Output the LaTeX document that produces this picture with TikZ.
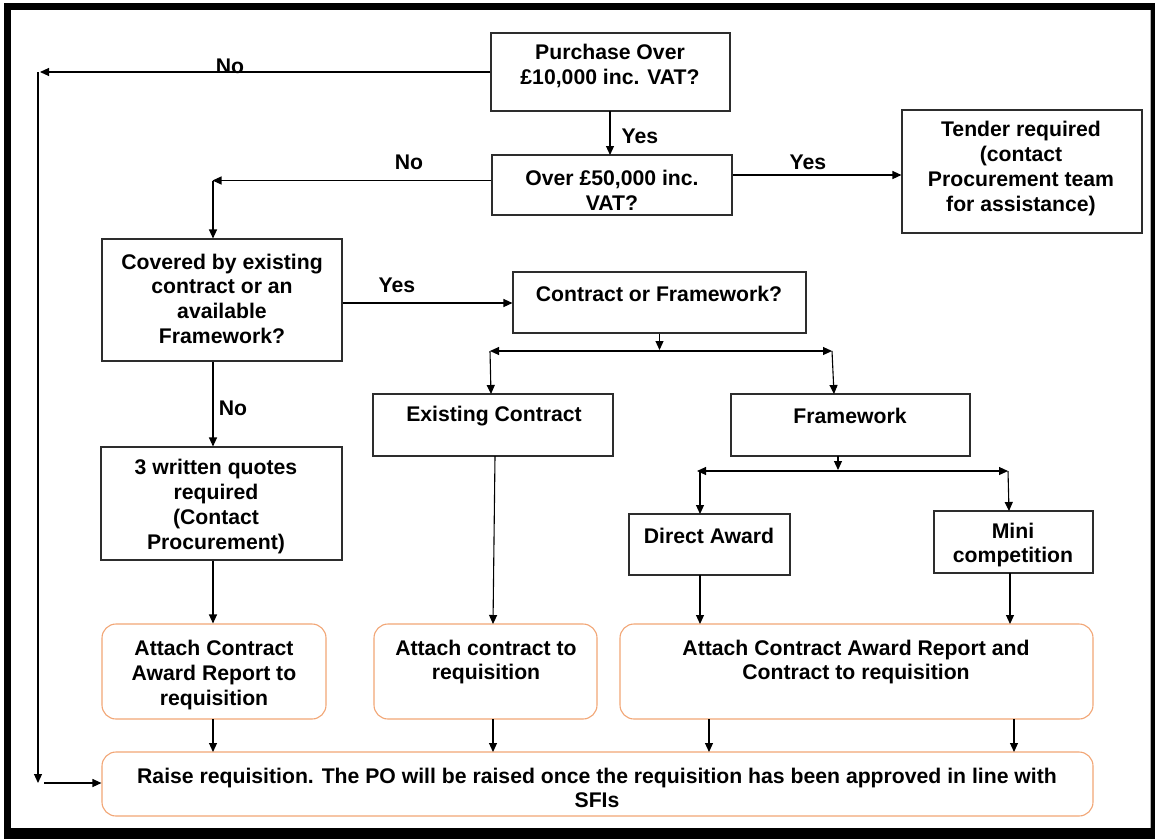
\documentclass[tikz,border=0pt]{standalone}
\usepackage{fontspec}
\setmainfont{Liberation Sans}
\usetikzlibrary{arrows.meta,fit}
\definecolor{orng}{RGB}{242,166,118}
\definecolor{boxline}{RGB}{45,45,45}
\begin{document}
\begin{tikzpicture}[x=1pt,y=-1pt,
 box/.style={draw=boxline,line width=1.1pt,inner sep=0pt},
 rbox/.style={draw=orng,line width=1.1pt,rounded corners=14pt,inner sep=0pt},
 txt/.style={font=\fontsize{21.2}{24.7}\selectfont\bfseries,align=center,inner sep=0pt},
 lbl/.style={font=\fontsize{21.2}{24}\selectfont\bfseries,inner sep=0pt},
 arr/.style={line width=1.1pt,-{Triangle[length=9pt,width=8pt]}},
 darr/.style={line width=1.1pt,{Triangle[length=9pt,width=8pt]}-{Triangle[length=9pt,width=8pt]}},
 ln/.style={line width=1.1pt}]
\useasboundingbox (0,0) rectangle (1155,839);
\fill[white] (0,0) rectangle (1155,839);
\fill[black] (4,3) rectangle (1155,839);
\fill[white] (11,10) rectangle (1150,828);
\draw[gray!60,line width=1pt] (1150,10) -- (1150,828);

% boxes
\node[box,fit={(491,33) (730,111)}] (p1) {};
\node[box,fit={(492,155) (732,215)}] (p2) {};
\node[box,fit={(902,110) (1142,233)}] (tender) {};
\node[box,fit={(102,239) (342,361)}] (cov) {};
\node[box,fit={(513,272) (806,333)}] (cof) {};
\node[box,fit={(373,394) (613,456)}] (ex) {};
\node[box,fit={(731,394) (970,456)}] (fw) {};
\node[box,fit={(629,514) (790,575)}] (da) {};
\node[box,fit={(934,511) (1093,573)}] (mc) {};
\node[box,fit={(101,447) (342,560)}] (q3) {};
\node[rbox,fit={(102,624) (326,719)}] (a1) {};
\node[rbox,fit={(374,624) (597,719)}] (a2) {};
\node[rbox,fit={(620,624) (1093,719)}] (a3) {};
\node[rbox,fit={(102,752) (1093,816)}] (raise) {};

% texts
\node[txt] (t1) at (610,66) {Purchase Over\\£10,000 inc. VAT?};
\node[txt] (t2) at (612,190) {Over £50,000 inc.\\VAT?};
\node[txt] (t3) at (1021,168.5) {Tender required\\(contact\\Procurement team\\for assistance)};
\node[txt] (t4) at (222,298.5) {Covered by existing\\contract or an\\available\\Framework?};
\node[txt] (t5) at (659,294) {Contract or Framework?};
\node[txt] (t6) at (494,416) {Existing Contract};
\node[txt] (t7) at (850,416) {Framework};
\node[txt] (t8) at (709,536) {Direct Award};
\node[txt] (t9) at (1013,545) {Mini\\competition};
\node[txt] (t10) at (216,506.5) {3 written quotes\\required\\(Contact\\Procurement)};
\node[txt] (t11) at (214,675) {Attach Contract\\Award Report to\\requisition};
\node[txt] (t12) at (486,662) {Attach contract to\\requisition};
\node[txt] (t13) at (856,662) {Attach Contract Award Report and\\Contract to requisition};
\node[txt] (t14) at (597,788) {Raise requisition. The PO will be raised once the requisition has been approved in line with\\SFIs};

% labels
\node[lbl] (n1) at (230,66) {No};
\node[lbl] (y1) at (640,136) {Yes};
\node[lbl] (n2) at (409,162) {No};
\node[lbl] (y2) at (808,162) {Yes};
\node[lbl] (y3) at (397,285) {Yes};
\node[lbl] (n3) at (233,408) {No};

% coordinates
\coordinate (L1) at (40,72);
\coordinate (L2) at (38,72);
\coordinate (L3) at (38,783);
\coordinate (L4) at (44,783);
\coordinate (c1) at (213,180.5);
\coordinate (h1) at (490,351);
\coordinate (h2) at (832,351);
\coordinate (f1) at (697,471);
\coordinate (f2) at (1008,471);

% connectors
\draw[arr] (p1.west |- L1) -- (L1);
\draw[ln] (L2) -- (38,770);
\draw[arr] (38,770) -- (L3);
\draw[arr] (L4) -- (L4 -| raise.west);
\draw[arr] (610,111) -- (610,155);
\draw[arr] (p2.east |- 0,175) -- (tender.west |- 0,175);
\draw[ln] (p2.west |- c1) -- (c1);
\draw[arr] (p2.west |- c1) -- ([xshift=-0.5pt]c1);
\draw[arr] (c1) -- (c1 |- cov.north);
\draw[arr] (cov.east |- 0,303) -- (cof.west |- 0,303);
\draw[arr] (cof.south) -- (cof.south |- 0,350);
\draw[darr] (h1) -- (h2);
\draw[arr] (h1) -- (491,394);
\draw[arr] (h2) -- (834,394);
\draw[arr] (838,456) -- (838,470);
\draw[darr] (f1) -- (f2);
\draw[arr] (700,471) -- (700,514);
\draw[arr] (1008,471) -- (1009,511);
\draw[arr] (cov.south -| c1) -- (c1 |- q3.north);
\draw[arr] (c1 |- q3.south) -- (c1 |- a1.north);
\draw[arr] (495,456) -- (493,624);
\draw[arr] (700,575) -- (700,624);
\draw[arr] (1010,573) -- (1010,624);
\draw[arr] (213,719) -- (213,752);
\draw[arr] (493,719) -- (493,752);
\draw[arr] (709,719) -- (709,752);
\draw[arr] (1014,719) -- (1014,752);
\end{tikzpicture}
\end{document}
